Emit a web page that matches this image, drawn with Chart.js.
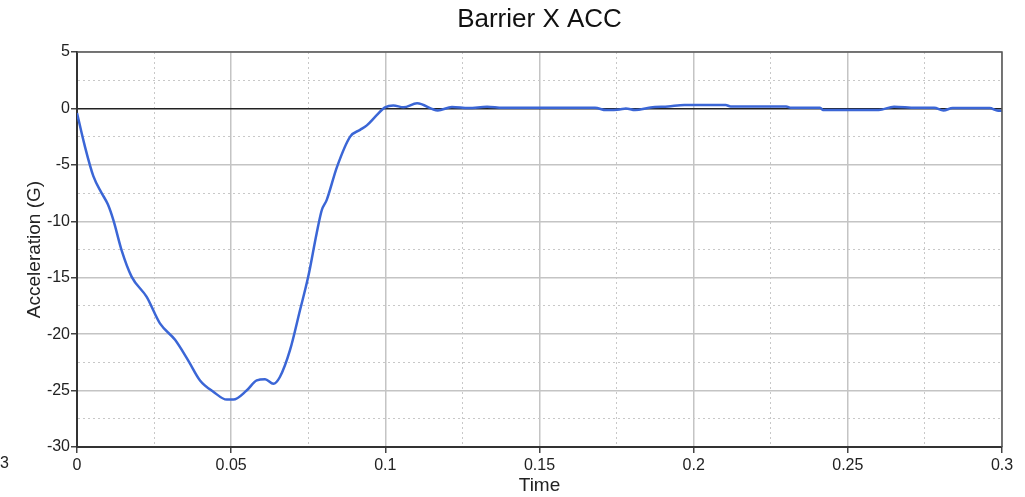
<!DOCTYPE html>
<html>
<head>
<meta charset="utf-8">
<script src="https://cdn.jsdelivr.net/npm/chart.js@4"></script>
<style>
  html, body { margin: 0; padding: 0; background: #fff; }
  #wrap { width: 1025px; height: 497px; position: relative; }
</style>
</head>
<body>
<div id="wrap"><canvas id="c" width="1025" height="497"></canvas></div>
<script>
const chartTitle = "Barrier X ACC";
const xTitle = "Time";
const yTitle = "Acceleration (G)";

const timeValues = [0, 0.0025, 0.0053, 0.008, 0.010, 0.0118, 0.0145, 0.0177, 0.0226, 0.0269, 0.0318, 0.036, 0.0399, 0.0442, 0.0486, 0.0507, 0.055, 0.0583, 0.061, 0.0637, 0.0658, 0.0691, 0.0723, 0.075, 0.0777, 0.0794, 0.081, 0.0843, 0.0886, 0.0918, 0.094, 0.0972, 0.0999, 0.1026, 0.1059, 0.1103, 0.117, 0.1216, 0.127, 0.133, 0.138, 0.168, 0.1716, 0.176, 0.178, 0.181, 0.186, 0.1917, 0.197, 0.2104, 0.212, 0.230, 0.2315, 0.241, 0.242, 0.26, 0.265, 0.272, 0.278, 0.281, 0.284, 0.296, 0.2984, 0.3];
const accelValues = [-0.4, -3.3, -6.0, -7.5, -8.5, -9.9, -12.6, -14.9, -16.7, -19.05, -20.5, -22.3, -24.1, -25.1, -25.8, -25.8, -25.0, -24.1, -24.0, -24.4, -23.8, -21.4, -17.9, -14.9, -11.1, -9.0, -8.1, -5.2, -2.5, -1.9, -1.5, -0.6, 0.1, 0.27, 0.1, 0.45, -0.18, 0.12, 0.03, 0.15, 0.06, 0.06, -0.15, -0.1, 0.0, -0.15, 0.09, 0.18, 0.3, 0.3, 0.18, 0.18, 0.06, 0.06, -0.15, -0.15, 0.15, 0.06, 0.06, -0.18, 0.03, 0.03, -0.18, -0.2];

const xMin = 0, xMax = 0.3, xMinorStep = 0.025, xMajorStep = 0.05;
const yMin = -30, yMax = 5, yMinorStep = 2.5, yMajorStep = 5;

const points = timeValues.map((t, i) => ({ x: t, y: accelValues[i] }));

function isMajor(v, step) { return Math.abs(v / step - Math.round(v / step)) < 1e-6; }

const frame = {
  id: 'frame',
  afterDraw(chart) {
    const { ctx, chartArea: a } = chart;
    ctx.save();
    ctx.strokeStyle = '#555';
    ctx.lineWidth = 1.5;
    ctx.beginPath();
    ctx.moveTo(a.left, a.top); ctx.lineTo(a.right, a.top); ctx.lineTo(a.right, a.bottom);
    ctx.stroke();
    // chart title centred over the plot area
    ctx.fillStyle = '#111';
    ctx.font = '26px "Liberation Sans", Arial, sans-serif';
    ctx.textAlign = 'center';
    ctx.textBaseline = 'middle';
    ctx.fillText(chartTitle, (a.left + a.right) / 2, 20);
    // clipped leftover label at far left
    ctx.fillStyle = '#222';
    ctx.font = '16px "Liberation Sans", Arial, sans-serif';
    ctx.textAlign = 'right';
    ctx.fillText('-0.3', 9, 464);
    ctx.restore();
  }
};

const tickFont = { family: '"Liberation Sans", Arial, sans-serif', size: 16 };

new Chart(document.getElementById('c'), {
  type: 'scatter',
  data: {
    datasets: [{
      data: points,
      showLine: true,
      borderColor: '#3b66d6',
      backgroundColor: '#3b66d6',
      borderWidth: 2.5,
      pointRadius: 0,
      cubicInterpolationMode: 'monotone'
    }]
  },
  options: {
    responsive: false,
    animation: false,
    layout: { padding: { left: 0, right: 23, top: 52, bottom: 0 } },
    plugins: {
      legend: { display: false },
      tooltip: { enabled: false },
      title: { display: false }
    },
    scales: {
      x: {
        type: 'linear',
        min: xMin, max: xMax,
        afterFit(s) { s.height = 50; },
        ticks: {
          stepSize: xMinorStep,
          autoSkip: false,
          maxRotation: 0,
          padding: 3,
          color: '#222',
          font: tickFont,
          callback: v => isMajor(v, xMajorStep) ? String(Math.round(v * 100) / 100) : ''
        },
        grid: {
          color: c => (c.tick && isMajor(c.tick.value, xMajorStep)) ? '#c4c4c4' : '#c8c8c8',
          lineWidth: c => (c.tick && isMajor(c.tick.value, xMajorStep)) ? 1.5 : 1,
          tickLength: 6,
          tickColor: c => (c.tick && isMajor(c.tick.value, xMajorStep)) ? '#444' : 'rgba(0,0,0,0)',
          tickWidth: 1.5
        },
        border: {
          color: '#333', width: 2,
          dash: c => (c.tick && !isMajor(c.tick.value, xMajorStep)) ? [2, 3] : []
        },
        title: {
          display: true, text: xTitle, color: '#222',
          font: { family: '"Liberation Sans", Arial, sans-serif', size: 19 },
          padding: { top: 0, bottom: 0 }
        }
      },
      y: {
        min: yMin, max: yMax,
        afterFit(s) { s.width = 77; },
        ticks: {
          stepSize: yMinorStep,
          autoSkip: false,
          padding: 1,
          color: '#222',
          font: tickFont,
          callback: v => isMajor(v, yMajorStep) ? String(v) : ''
        },
        grid: {
          color: c => {
            if (!c.tick) return '#c4c4c4';
            if (Math.abs(c.tick.value) < 1e-9) return '#222';
            return isMajor(c.tick.value, yMajorStep) ? '#c4c4c4' : '#c8c8c8';
          },
          lineWidth: c => (c.tick && isMajor(c.tick.value, yMajorStep)) ? 1.5 : 1,
          tickLength: 6,
          tickColor: c => (c.tick && isMajor(c.tick.value, yMajorStep)) ? '#444' : 'rgba(0,0,0,0)',
          tickWidth: 1.5
        },
        border: {
          color: '#333', width: 2,
          dash: c => (c.tick && !isMajor(c.tick.value, yMajorStep)) ? [2, 3] : []
        },
        title: {
          display: true, text: yTitle, color: '#222',
          font: { family: '"Liberation Sans", Arial, sans-serif', size: 19 },
          padding: { top: 23, bottom: 0 }
        }
      }
    }
  },
  plugins: [frame]
});
</script>
</body>
</html>
